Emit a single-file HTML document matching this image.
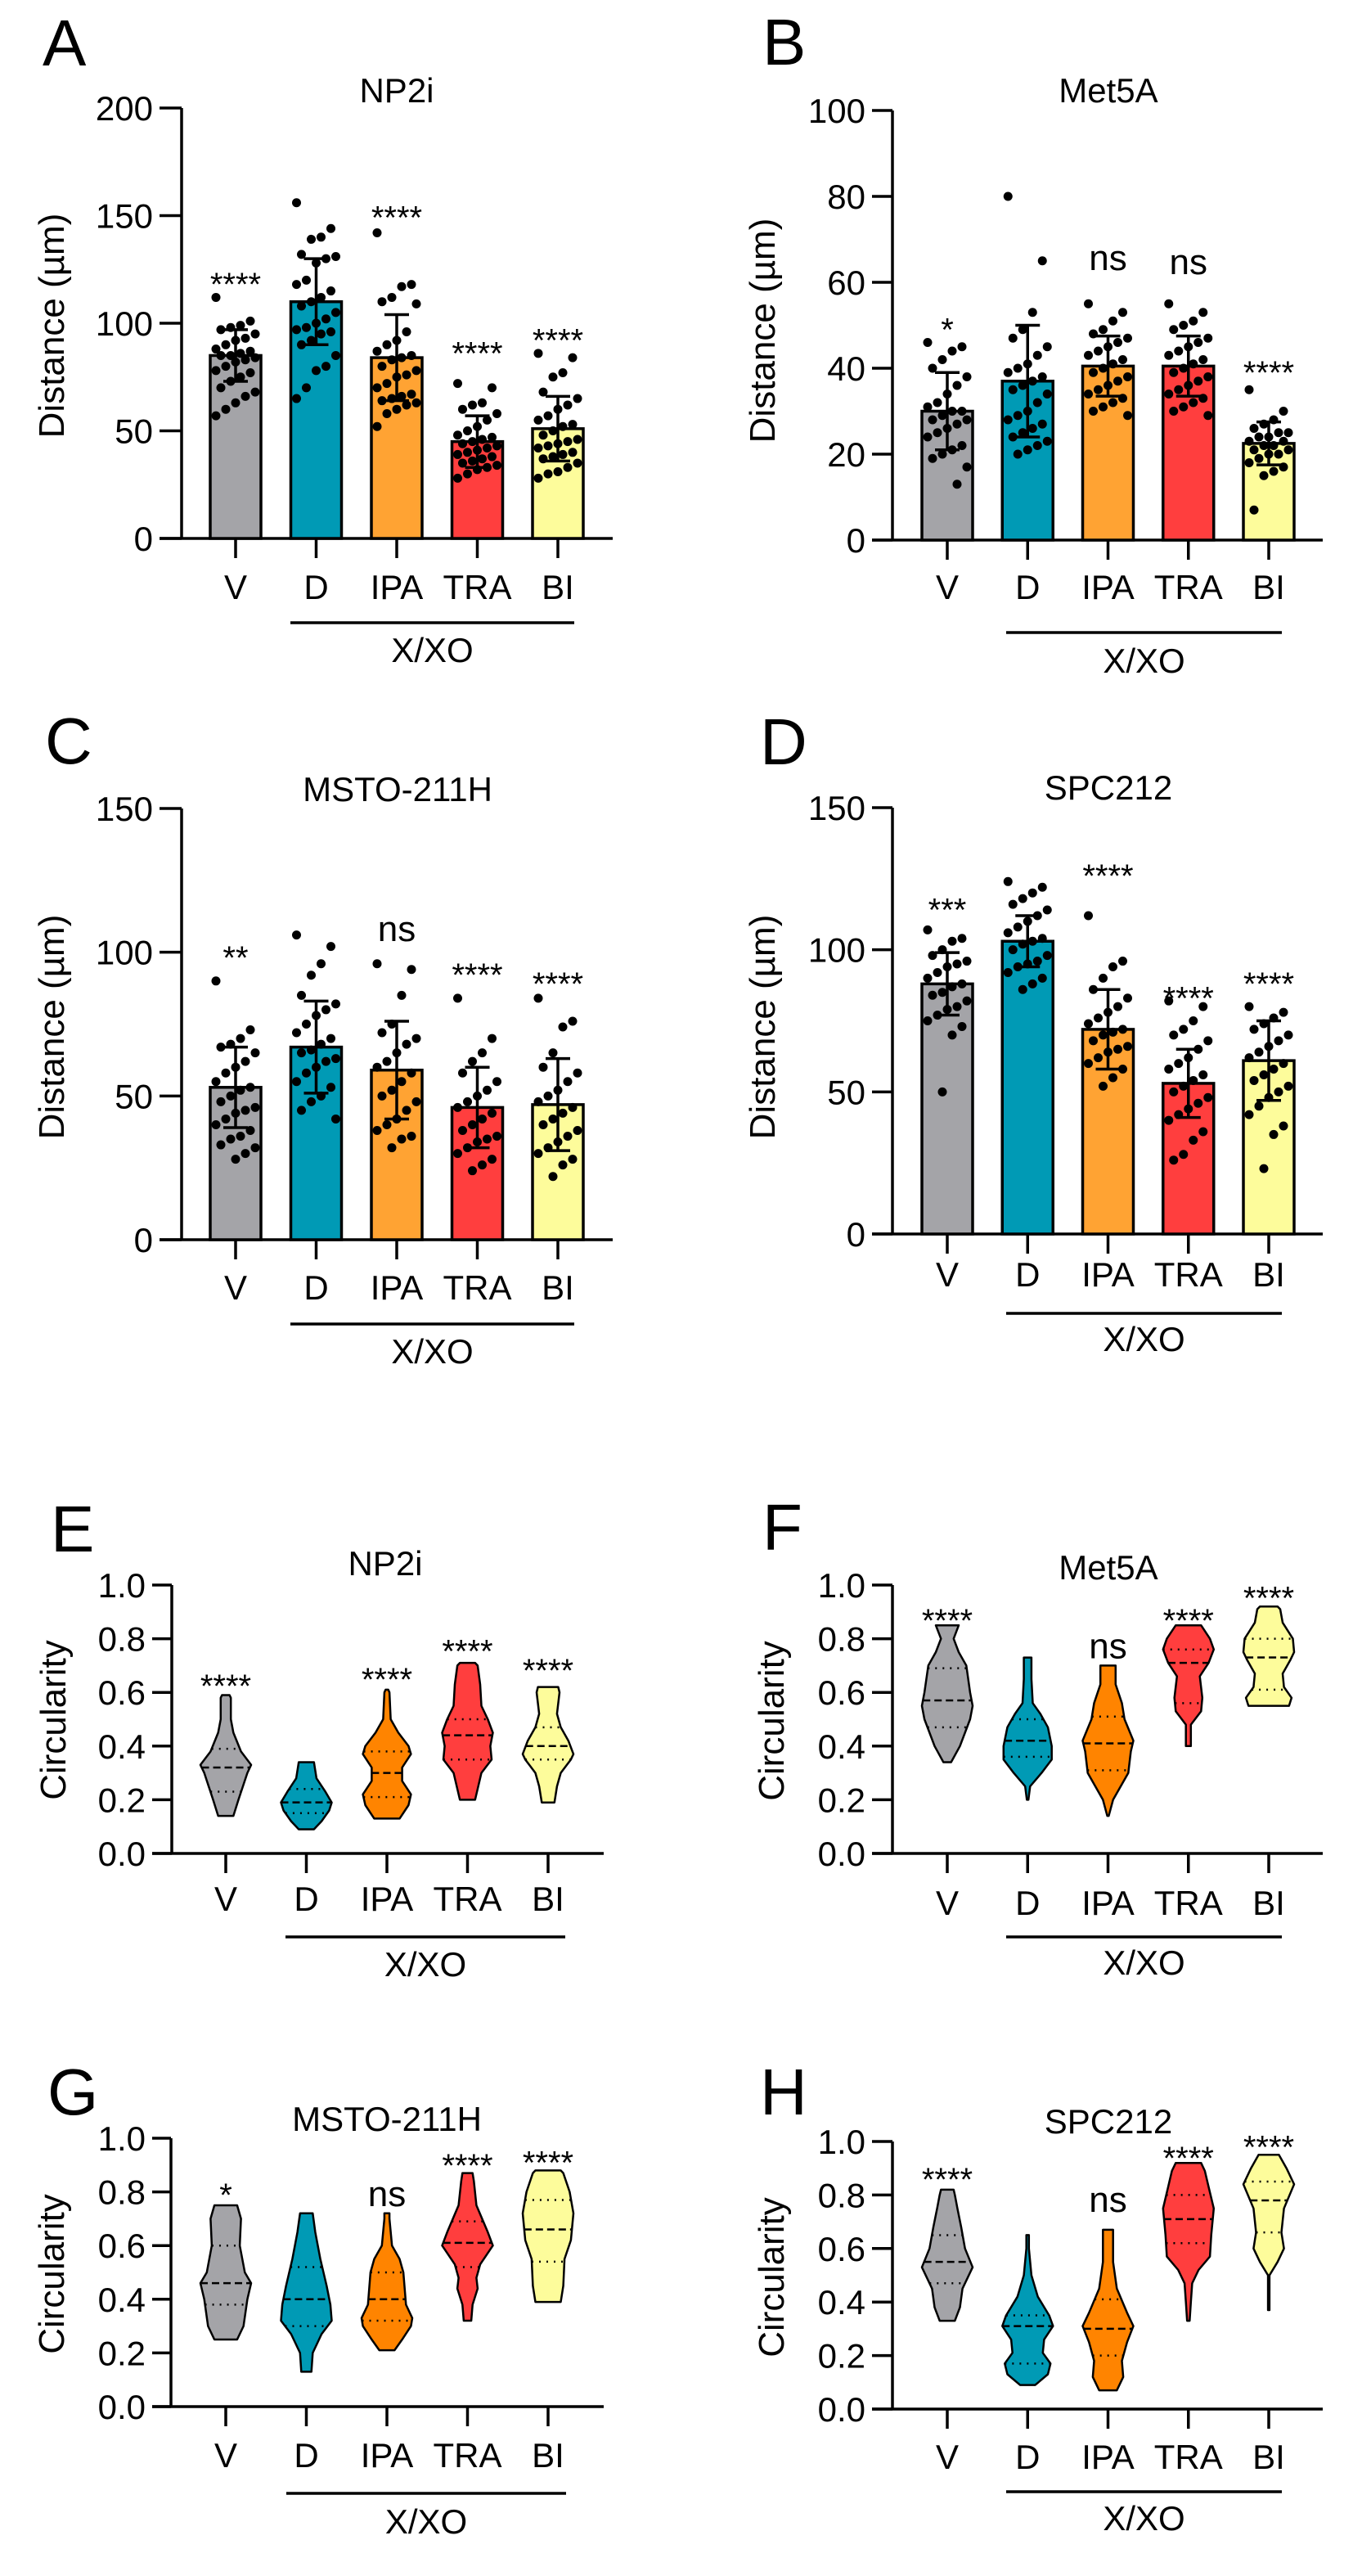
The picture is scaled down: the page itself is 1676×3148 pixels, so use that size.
<!DOCTYPE html>
<html><head><meta charset="utf-8"><title>Distance and circularity figure</title>
<style>html,body{margin:0;padding:0;background:#fff}svg{display:block}text{font-family:"Liberation Sans",Arial,sans-serif;fill:#000}</style>
</head><body>
<svg id="fig" xmlns="http://www.w3.org/2000/svg" width="1676" height="3148" viewBox="0 0 1676 3148"></svg>
<script>
// ---------- data ----------
const cats = ["V","D","IPA","TRA","BI"];
const distTicksA = [0,50,100,150,200];
const distTicksB = [0,20,40,60,80,100];
const distTicksC = [0,50,100,150];
const circTicks = ["0.0","0.2","0.4","0.6","0.8","1.0"];

// Panel A NP2i
const meanA = [85,110,84,45,51];
const sdA = [12,20,20,12,15];
const ptsA = [
 [112,101,99,98,97,95,93,92,90,88,87,86,85,85,84,83,82,80,78,77,75,73,70,68,66,63,60,57],
 [156,144,140,139,132,131,130,128,120,118,115,112,110,108,105,102,100,98,97,96,95,92,90,85,80,78,70,65],
 [142,118,117,112,110,109,96,92,90,87,85,84,83,80,78,76,75,72,70,67,66,65,64,63,62,60,58,52],
 [72,70,63,62,60,58,55,52,50,48,47,46,45,44,43,42,41,40,39,38,37,36,35,34,33,32,30,28],
 [86,84,77,75,68,65,62,60,57,55,53,52,50,48,46,45,44,43,42,40,39,38,37,35,33,31,30,28]];
const annA = ["****","","****","****","****"];
const annYA = [122,0,153,90,96];

// Panel B Met5A
const meanB = [30,37,40.5,40.5,22.5];
const sdB = [9,13,7,7,5];
const ptsB = [
 [46,45,44,42,40,38,36,34,32,31,30,30,29,28,28,27,26,25,24,22,21,20,19,17,13],
 [80,65,53,49,47,45,43,41,40,39,38,37,36,35,34,32,30,29,28,27,26,25,24,23,22,21,20],
 [55,53,51,49,48,47,46,45,44,43,42,41,40,39,38,37,36,35,34,33,32,31,30,29],
 [55,53,51,50,49,47,46,45,44,43,42,41,40,39,38,37,36,35,34,33,32,31,30,29],
 [35,30,28,27,26,25,25,24,24,23,23,22,22,21,21,20,20,19,18,17,16,15,7]];
const annB = ["*","","ns","ns","****"];
const annYB = [51,0,65,64,41];

// Panel C MSTO-211H
const meanC = [53,67,59,46,47];
const sdC = [14,16,17,14,16];
const ptsC = [
 [90,73,70,68,67,65,62,60,58,55,53,52,50,48,46,45,44,42,40,38,36,35,33,32,30,28],
 [106,102,96,92,85,82,80,78,75,72,70,68,66,65,63,62,60,58,55,53,50,48,45,42],
 [96,94,85,75,72,70,68,65,62,60,58,55,52,50,48,45,42,40,38,36,35,32],
 [84,70,65,62,58,55,52,50,48,46,44,42,40,38,36,35,34,32,30,28,26,24],
 [84,76,74,65,60,58,55,52,50,48,46,44,42,40,38,36,34,32,30,28,26,22]];
const annC = ["**","","ns","****","****"];
const annYC = [101,0,107,95,92];

// Panel D SPC212
const meanD = [88,103,72,53,61];
const sdD = [11,9,14,12,14];
const ptsD = [
 [107,104,103,100,98,96,95,94,92,90,88,87,85,84,82,80,79,77,75,73,70,50],
 [124,122,120,118,116,114,112,110,108,106,104,103,102,100,98,96,95,94,92,90,88,86],
 [112,96,94,90,86,83,80,78,76,74,72,71,70,68,66,65,64,62,60,58,55,52],
 [82,80,75,72,70,68,65,62,60,58,56,54,52,50,48,46,44,42,40,36,33,28,26],
 [80,78,76,74,72,70,68,66,64,62,60,58,56,54,52,50,48,45,42,38,35,23]];
const annD = ["***","","****","****","****"];
const annYD = [117,0,129,86,91];

// Violin panels: density profiles [value, relative width], median, quartiles
const violE = [
 [[0.14,0.3],[0.2,0.5],[0.3,0.85],[0.33,1.0],[0.38,0.6],[0.45,0.3],[0.5,0.2],[0.58,0.2],[0.59,0.15]],
 [[0.09,0.3],[0.12,0.6],[0.16,0.9],[0.19,1.0],[0.23,0.75],[0.28,0.4],[0.34,0.3]],
 [[0.13,0.5],[0.18,0.85],[0.22,0.95],[0.27,0.6],[0.32,0.6],[0.37,0.95],[0.4,0.85],[0.45,0.45],[0.5,0.15],[0.6,0.1],[0.61,0.05]],
 [[0.2,0.3],[0.3,0.55],[0.35,0.95],[0.4,0.9],[0.45,1.0],[0.5,0.8],[0.55,0.55],[0.63,0.5],[0.7,0.4],[0.71,0.3]],
 [[0.19,0.25],[0.25,0.35],[0.3,0.5],[0.35,0.9],[0.37,1.0],[0.42,0.8],[0.47,0.5],[0.52,0.35],[0.6,0.45],[0.62,0.4]]];
const medE = [0.32,0.19,0.30,0.44,0.40];
const q1E = [0.23,0.15,0.21,0.35,0.35];
const q3E = [0.39,0.24,0.38,0.50,0.47];
const annE = ["****","","****","****","****"];
const annYE = [0.655,0,0.68,0.785,0.713];

const violF = [
 [[0.34,0.15],[0.4,0.5],[0.5,0.9],[0.55,1.0],[0.6,0.9],[0.7,0.75],[0.75,0.45],[0.8,0.25],[0.85,0.45]],
 [[0.2,0.03],[0.25,0.1],[0.3,0.55],[0.35,0.95],[0.4,0.95],[0.47,0.8],[0.52,0.5],[0.56,0.2],[0.65,0.15],[0.73,0.15]],
 [[0.14,0.03],[0.2,0.2],[0.3,0.8],[0.38,0.9],[0.42,1.0],[0.5,0.65],[0.56,0.55],[0.63,0.3],[0.7,0.3]],
 [[0.4,0.1],[0.48,0.1],[0.53,0.5],[0.58,0.55],[0.66,0.45],[0.71,0.8],[0.76,1.0],[0.8,0.85],[0.85,0.5]],
 [[0.55,0.8],[0.58,0.9],[0.62,0.6],[0.67,0.55],[0.72,0.85],[0.75,1.0],[0.8,0.95],[0.86,0.55],[0.91,0.45],[0.92,0.35]]];
const medF = [0.57,0.42,0.41,0.71,0.73];
const q1F = [0.47,0.36,0.31,0.56,0.61];
const q3F = [0.69,0.50,0.51,0.76,0.80];
const annF = ["****","","ns","****","****"];
const annYF = [0.90,0,0.76,0.90,0.983];

const violG = [
 [[0.25,0.45],[0.3,0.7],[0.4,0.85],[0.46,1.0],[0.5,0.75],[0.6,0.55],[0.7,0.6],[0.75,0.45]],
 [[0.13,0.2],[0.2,0.25],[0.27,0.6],[0.32,1.0],[0.38,0.95],[0.45,0.8],[0.55,0.55],[0.65,0.35],[0.72,0.25]],
 [[0.21,0.3],[0.25,0.6],[0.3,0.95],[0.33,1.0],[0.38,0.75],[0.5,0.65],[0.55,0.5],[0.6,0.2],[0.7,0.1],[0.72,0.1]],
 [[0.32,0.15],[0.38,0.2],[0.44,0.4],[0.48,0.35],[0.53,0.5],[0.6,1.0],[0.65,0.8],[0.75,0.35],[0.84,0.25],[0.87,0.2]],
 [[0.39,0.5],[0.45,0.6],[0.55,0.65],[0.62,0.9],[0.72,1.0],[0.8,0.85],[0.87,0.6],[0.88,0.5]]];
const medG = [0.46,0.40,0.40,0.61,0.66];
const q1G = [0.38,0.30,0.32,0.52,0.54];
const q3G = [0.60,0.52,0.50,0.69,0.77];
const annG = ["*","","ns","****","****"];
const annYG = [0.82,0,0.78,0.93,0.94];

const violH = [
 [[0.33,0.3],[0.38,0.5],[0.45,0.6],[0.53,1.0],[0.6,0.7],[0.68,0.55],[0.75,0.4],[0.8,0.3],[0.82,0.25]],
 [[0.09,0.3],[0.13,0.8],[0.17,0.9],[0.21,0.6],[0.26,0.65],[0.31,1.0],[0.35,0.85],[0.42,0.4],[0.5,0.15],[0.6,0.05],[0.65,0.05]],
 [[0.07,0.35],[0.12,0.6],[0.18,0.55],[0.25,0.75],[0.31,1.0],[0.36,0.75],[0.45,0.35],[0.55,0.2],[0.65,0.2],[0.67,0.2]],
 [[0.33,0.05],[0.4,0.1],[0.47,0.15],[0.52,0.4],[0.57,0.85],[0.65,0.9],[0.75,1.0],[0.83,0.8],[0.89,0.65],[0.92,0.5]],
 [[0.37,0.03],[0.5,0.03],[0.55,0.35],[0.6,0.6],[0.66,0.5],[0.75,0.6],[0.84,1.0],[0.9,0.7],[0.95,0.4]]];
const medH = [0.55,0.31,0.30,0.71,0.78];
const q1H = [0.47,0.17,0.20,0.62,0.66];
const q3H = [0.65,0.35,0.41,0.80,0.85];
const annH = ["****","","ns","****","****"];
const annYH = [0.89,0,0.77,0.97,1.01];

// ---------- drawing ----------
const NS = "http://www.w3.org/2000/svg";
const svg = document.getElementById('fig');
const barColors = ["#a4a4a8","#009ab5","#ffa333","#ff3e3e","#fdfc9b"];
const violColors = ["#a4a4a8","#009ab5","#ff8400","#ff3e3e","#fdfc9b"];
function mk(tag, a, parent){const e=document.createElementNS(NS,tag);for(const k in a)e.setAttribute(k,a[k]);(parent||svg).appendChild(e);return e;}

function makeScale(p){return v => p.y0 - v/p.max*(p.y0-p.yTop);}

function drawFrame(p, g){
  const ys = makeScale(p);
  const t = mk('text',{x:p.lx,y:p.ly,'font-size':80},g); t.textContent=p.letter;
  
  
  const ti = mk('text',{x:p.tx,y:p.ty+15,'font-size':42,'text-anchor':'middle'},g); ti.textContent=p.title;
  
  
  const yt = mk('text',{x:0,y:0,'font-size':44,'text-anchor':'middle',transform:`translate(${p.yx+15},${p.yy}) rotate(-90)`},g); yt.textContent=p.ytitle;
  
  
  const ya = mk('line',{x1:p.ax,y1:p.yTop,x2:p.ax,y2:p.y0,stroke:'#000','stroke-width':3.5},g);
  
  
  const xa = mk('line',{x1:p.xs,y1:p.y0,x2:p.xe,y2:p.y0,stroke:'#000','stroke-width':3.5},g);
  
  
  p.ticks.forEach((tk,i)=>{
    const v = parseFloat(tk); const y = ys(v);
    const l = mk('line',{x1:p.xs,y1:y,x2:p.ax,y2:y,stroke:'#000','stroke-width':3.5},g);
    
    
    const tx = mk('text',{x:p.xs-8,y:y+15,'font-size':42,'text-anchor':'end'},g); tx.textContent=tk;
    
    
  });
  cats.forEach((c,i)=>{
    const cx = p.c0 + i*p.step;
    const l = mk('line',{x1:cx,y1:p.y0,x2:cx,y2:p.y0+24,stroke:'#000','stroke-width':3.5},g);
    
    
    const tx = mk('text',{x:cx,y:p.labY+15,'font-size':42,'text-anchor':'middle'},g); tx.textContent=c;
    
    
  });
  const br = mk('line',{x1:p.bx1,y1:p.bY,x2:p.bx2,y2:p.bY,stroke:'#000','stroke-width':3.5},g);
  
  
  const bt = mk('text',{x:(p.bx1+p.bx2)/2,y:p.xoY+15,'font-size':42,'text-anchor':'middle'},g); bt.textContent='X/XO';
  
  
  return ys;
}

function drawAnn(p, g, ys, ann, annY){
  ann.forEach((s,i)=>{
    if(!s) return;
    const cx = p.c0 + i*p.step;
    const off = s==='ns' ? 11 : 24;
    const t = mk('text',{x:cx,y:ys(annY[i])+off,'font-size':s==='ns'?44:40,'text-anchor':'middle'},g); t.textContent=s;
    
    
  });
}

function barPanel(p, mean, sd, pts, ann, annY){
  const g = mk('g',{});
  
  
  const ys = drawFrame(p, g);
  cats.forEach((c,i)=>{
    const cx = p.c0 + i*p.step;
    const r = mk('rect',{x:cx-31,y:ys(mean[i]),width:62,height:p.y0-ys(mean[i]),fill:barColors[i],stroke:'#000','stroke-width':3.5},g);
    
    
    pts[i].forEach((v,j)=>{
      const jit = (((j*7)%9)-4)*6;
      const d = mk('circle',{cx:cx+jit,cy:ys(v),r:5.5,fill:'#000'},g);
      
      
    });
    const lo = ys(mean[i]-sd[i]), hi = ys(mean[i]+sd[i]);
    const e = mk('path',{d:`M${cx},${lo}V${hi}M${cx-15},${hi}H${cx+15}M${cx-15},${lo}H${cx+15}`,stroke:'#000','stroke-width':3.5,fill:'none'},g);
    
    
  });
  drawAnn(p, g, ys, ann, annY);
}

function wAt(prof, v){
  for(let i=0;i<prof.length-1;i++){
    const a=prof[i], b=prof[i+1];
    if(v>=a[0] && v<=b[0]) return a[1]+(b[1]-a[1])*(v-a[0])/(b[0]-a[0]);
  }
  return 0;
}

function violinPanel(p, viol, med, q1, q3, ann, annY){
  const g = mk('g',{});
  
  
  const ys = drawFrame(p, g);
  const HW = 31;
  cats.forEach((c,i)=>{
    const cx = p.c0 + i*p.step;
    const prof = viol[i];
    const right = prof.map(q=>`${(cx+q[1]*HW).toFixed(1)},${ys(q[0]).toFixed(1)}`);
    const left = prof.slice().reverse().map(q=>`${(cx-q[1]*HW).toFixed(1)},${ys(q[0]).toFixed(1)}`);
    const pg = mk('polygon',{points:right.concat(left).join(' '),fill:violColors[i],stroke:'#000','stroke-width':2.5,'stroke-linejoin':'round'},g);
    
    
    [[med[i],'9,5','median-line'],[q1[i],'2,7','quartile-line'],[q3[i],'2,7','quartile-line']].forEach(L=>{
      const w = wAt(prof, L[0])*HW;
      const ln = mk('line',{x1:cx-w,y1:ys(L[0]),x2:cx+w,y2:ys(L[0]),stroke:'#000','stroke-width':2.5,'stroke-dasharray':L[1]},g);
      
      
    });
  });
  drawAnn(p, g, ys, ann, annY);
}

const L = {ax:222,xs:195,xe:749,c0:288,step:98.5,bx1:355,bx2:702};
const R = {ax:1091,xs:1066,xe:1617,c0:1158,step:98.25,bx1:1230,bx2:1567};
const LV = {ax:210,xs:186,xe:738,c0:276,step:98.5,bx1:349,bx2:691};

barPanel(Object.assign({},L,{letter:'A',lx:52,ly:80,title:'NP2i',tx:485,ty:110,ytitle:'Distance (µm)',yx:63,yy:398,yTop:132,y0:658,max:200,ticks:distTicksA.map(String),labY:717,bY:761,xoY:794}), meanA, sdA, ptsA, annA, annYA);
barPanel(Object.assign({},R,{letter:'B',lx:932,ly:79,title:'Met5A',tx:1355,ty:110,ytitle:'Distance (µm)',yx:932,yy:404,yTop:135,y0:660,max:100,ticks:distTicksB.map(String),labY:717,bY:773,xoY:807}), meanB, sdB, ptsB, annB, annYB);
barPanel(Object.assign({},L,{letter:'C',lx:55,ly:933,title:'MSTO-211H',tx:486,ty:964,ytitle:'Distance (µm)',yx:63,yy:1255,yTop:988,y0:1515,max:150,ticks:distTicksC.map(String),labY:1573,bY:1618,xoY:1651}), meanC, sdC, ptsC, annC, annYC);
barPanel(Object.assign({},R,{letter:'D',lx:929,ly:934,title:'SPC212',tx:1355,ty:962,ytitle:'Distance (µm)',yx:932,yy:1255,yTop:987,y0:1508,max:150,ticks:distTicksC.map(String),labY:1557,bY:1605,xoY:1636}), meanD, sdD, ptsD, annD, annYD);
violinPanel(Object.assign({},LV,{letter:'E',lx:62,ly:1896,title:'NP2i',tx:471,ty:1910,ytitle:'Circularity',yx:65,yy:2102,yTop:1937,y0:2265,max:1,ticks:circTicks,labY:2320,bY:2367,xoY:2400}), violE, medE, q1E, q3E, annE, annYE);
violinPanel(Object.assign({},R,{letter:'F',lx:932,ly:1894,title:'Met5A',tx:1355,ty:1915,ytitle:'Circularity',yx:943,yy:2103,yTop:1937,y0:2265,max:1,ticks:circTicks,labY:2325,bY:2367,xoY:2398}), violF, medF, q1F, q3F, annF, annYF);
violinPanel(Object.assign({},LV,{ax:209,letter:'G',lx:58,ly:2584,title:'MSTO-211H',tx:473,ty:2589,ytitle:'Circularity',yx:63,yy:2779,yTop:2613,y0:2941,max:1,ticks:circTicks,labY:3000,bY:3047,xoY:3081,bx1:350,bx2:692}), violG, medG, q1G, q3G, annG, annYG);
violinPanel(Object.assign({},R,{letter:'H',lx:929,ly:2584,title:'SPC212',tx:1355,ty:2592,ytitle:'Circularity',yx:943,yy:2783,yTop:2617,y0:2944,max:1,ticks:circTicks,labY:3002,bY:3045,xoY:3077}), violH, medH, q1H, q3H, annH, annYH);
</script>
</body></html>
